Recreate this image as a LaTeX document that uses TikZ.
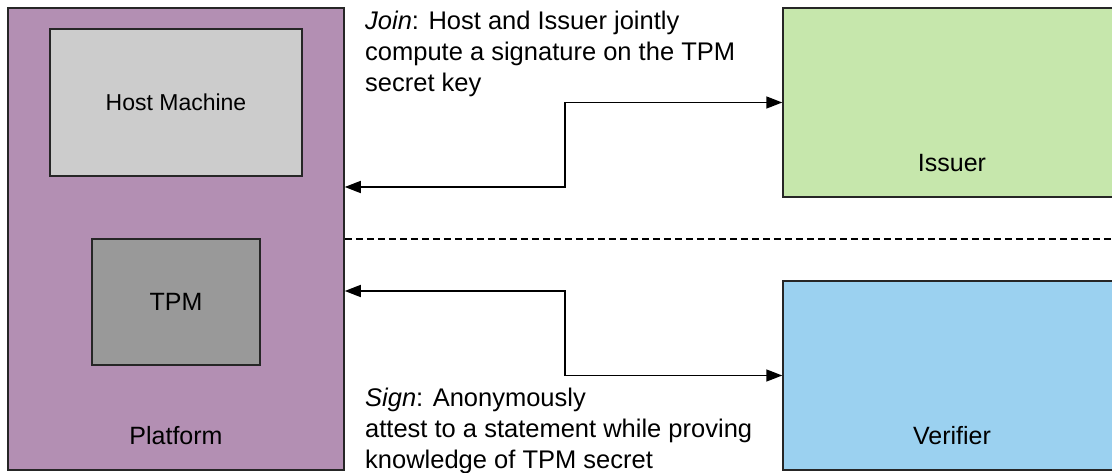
\documentclass[tikz,border=0pt]{standalone}
\usepackage{fontspec}
\setmainfont{Liberation Sans}
\usetikzlibrary{positioning,arrows.meta,calc}
\definecolor{platpurple}{RGB}{179,143,179}
\definecolor{hostgray}{RGB}{204,204,204}
\definecolor{tpmgray}{RGB}{153,153,153}
\definecolor{issgreen}{RGB}{198,231,172}
\definecolor{verblue}{RGB}{155,209,240}
\tikzset{
  box/.style={draw=black!85, line width=1.5pt, inner sep=0pt},
  lbl/.style={font=\fontsize{25}{30}\selectfont, inner sep=0pt},
  note/.style={font=\fontsize{25.5}{31}\selectfont, align=left, inner sep=0pt,
               anchor=north west},
  msg/.style={{Triangle[length=16pt,width=12pt]}-{Triangle[length=16pt,width=12pt]},
              line width=1.6pt},
  sep/.style={dash pattern=on 7pt off 4pt, line width=1.5pt}
}

\begin{document}
\begin{tikzpicture}[x=1pt, y=-1pt]
    \useasboundingbox (0,0) rectangle (1112,473);
    % platform side
    \node[box, fill=platpurple, minimum width=336pt, minimum height=462pt] (platform) at (176,239) {};
    \node[box, fill=hostgray, minimum width=252pt, minimum height=147pt] (host) at (176,102.5) {};
    \node[box, fill=tpmgray, minimum width=168pt, minimum height=126pt] (tpm) at (176,302) {};
    \node[lbl, font=\fontsize{23}{28}\selectfont] at (host) {Host Machine};
    \node[lbl] at (tpm) {TPM};
    \node[lbl] at ([yshift=35pt]platform.south) {Platform};
    % issuer and verifier
    \node[box, fill=issgreen, minimum width=338pt, minimum height=189pt] (issuer) at (952,102.5) {};
    \node[box, fill=verblue, minimum width=338pt, minimum height=189pt] (verifier) at (952,375.5) {};
    \node[lbl] at ([yshift=35pt]issuer.south) {Issuer};
    \node[lbl] at ([yshift=35pt]verifier.south) {Verifier};
    % protocols
    \coordinate (joinbend) at (565,187);
    \coordinate (signbend) at (565,291);
    \coordinate (sepend) at (1112,239);
    \draw[msg] (issuer.west) -| (joinbend) -- (platform.east |- joinbend);
    \draw[msg] (platform.east |- signbend) -- (signbend) |- (verifier.west);
    \draw[sep] (platform.east) -- (sepend);
    \node[note] (join) at (365,11) {\textit{Join}: Host and Issuer jointly\\compute a signature on the TPM\\secret key};
    \node[note] (sign) at (365,388) {\textit{Sign}: Anonymously\\attest to a statement while proving\\knowledge of TPM secret};
\end{tikzpicture}
\end{document}
